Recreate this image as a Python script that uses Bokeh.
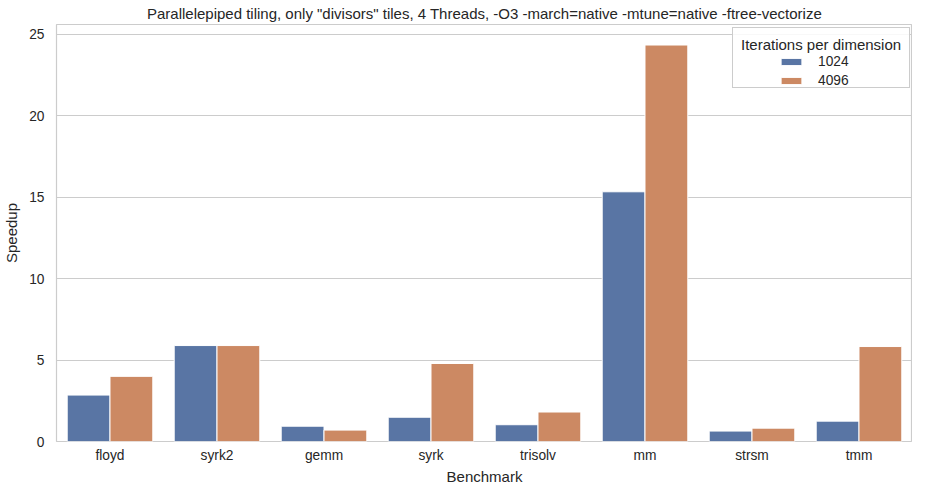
from bokeh.plotting import figure
from bokeh.models import (FactorRange, Range1d, ColumnDataSource, Legend, LegendItem,
                          FixedTicker, Title)
from bokeh.transform import dodge
from bokeh.embed import file_html
from bokeh.resources import INLINE

benchmarks = ["floyd", "syrk2", "gemm", "syrk", "trisolv", "mm", "strsm", "tmm"]
speedup_1024 = [2.85, 5.89, 0.94, 1.49, 1.03, 15.33, 0.64, 1.25]
speedup_4096 = [4.00, 5.89, 0.70, 4.79, 1.81, 24.34, 0.82, 5.83]
hue_labels = ["1024", "4096"]
y_ticks = [0, 5, 10, 15, 20, 25]

title_text = 'Parallelepiped tiling, only "divisors" tiles, 4 Threads, -O3 -march=native -mtune=native -ftree-vectorize'

FONT = "Liberation Sans"
TXT = "#262626"
BLUE = "#5975a4"
ORANGE = "#cc8963"

src = ColumnDataSource(data=dict(bench=benchmarks, s1024=speedup_1024, s4096=speedup_4096))

p = figure(width=912, height=484, x_range=FactorRange(*benchmarks, range_padding=0),
           y_range=Range1d(0, 25.6), output_backend="svg", toolbar_location=None,
           min_border_left=52, min_border_right=0, min_border_top=0, min_border_bottom=0)

p.title.text = title_text
p.title.align = "center"
p.title.text_font = FONT
p.title.text_font_size = "15px"
p.title.text_font_style = "normal"
p.title.text_color = TXT
p.title.offset = 0
p.title.standoff = 5

r1 = p.vbar(x=dodge("bench", -0.2, range=p.x_range), top="s1024", width=0.4, source=src,
            fill_color=BLUE, line_color="white", line_width=1)
r2 = p.vbar(x=dodge("bench", 0.2, range=p.x_range), top="s4096", width=0.4, source=src,
            fill_color=ORANGE, line_color="white", line_width=1)
# invisible renderer used only to size the legend frame
blank = p.vbar(x=[], top=[], width=0.4, fill_alpha=0, line_alpha=0)

p.xgrid.visible = False
p.ygrid.grid_line_color = "#cccccc"
p.ygrid.grid_line_width = 1
p.outline_line_color = "#cccccc"
p.outline_line_width = 1.2
p.background_fill_color = "white"
p.border_fill_color = "white"

p.yaxis.ticker = FixedTicker(ticks=y_ticks)
for ax in (p.xaxis[0], p.yaxis[0]):
    ax.axis_line_color = None
    ax.major_tick_line_color = None
    ax.minor_tick_line_color = None
    ax.major_tick_in = 0
    ax.major_tick_out = 0
    ax.major_label_text_font = FONT
    ax.major_label_text_font_size = "13.75px"
    ax.major_label_text_color = TXT
    ax.axis_label_text_font = FONT
    ax.axis_label_text_font_size = "15px"
    ax.axis_label_text_font_style = "normal"
    ax.axis_label_text_color = TXT
p.yaxis.axis_label = "Speedup"
p.xaxis.major_label_standoff = 6
p.yaxis.major_label_standoff = 12
p.yaxis.axis_label_standoff = 6

xlabel = Title(text="Benchmark", align="center", text_font=FONT, text_font_size="15px",
               text_font_style="normal", text_color=TXT, standoff=0, offset=0)
p.add_layout(xlabel, "below")


def style_legend(lg):
    lg.label_text_font = FONT
    lg.label_text_font_size = "13.75px"
    lg.label_text_color = TXT
    lg.glyph_width = 26
    lg.glyph_height = 9
    lg.label_standoff = 14
    lg.spacing = 4
    lg.padding = 8
    lg.margin = 0


frame_legend = Legend(items=[LegendItem(label=" ", renderers=[blank]),
                             LegendItem(label=" ", renderers=[blank])],
                      location=(676, 353), title="Iterations per dimension")
style_legend(frame_legend)
frame_legend.title_text_font = FONT
frame_legend.title_text_font_size = "15px"
frame_legend.title_text_font_style = "normal"
frame_legend.title_text_color = TXT
frame_legend.title_standoff = 4
frame_legend.border_line_color = "#cccccc"
frame_legend.border_line_alpha = 1
frame_legend.background_fill_alpha = 0.85
p.add_layout(frame_legend)

legend = Legend(items=[LegendItem(label=hue_labels[0], renderers=[r1]),
                       LegendItem(label=hue_labels[1], renderers=[r2])],
                location=(676 + 46, 353))
style_legend(legend)
legend.border_line_color = None
legend.background_fill_alpha = 0
p.add_layout(legend)

open("out.html", "w").write(file_html(p, INLINE))
